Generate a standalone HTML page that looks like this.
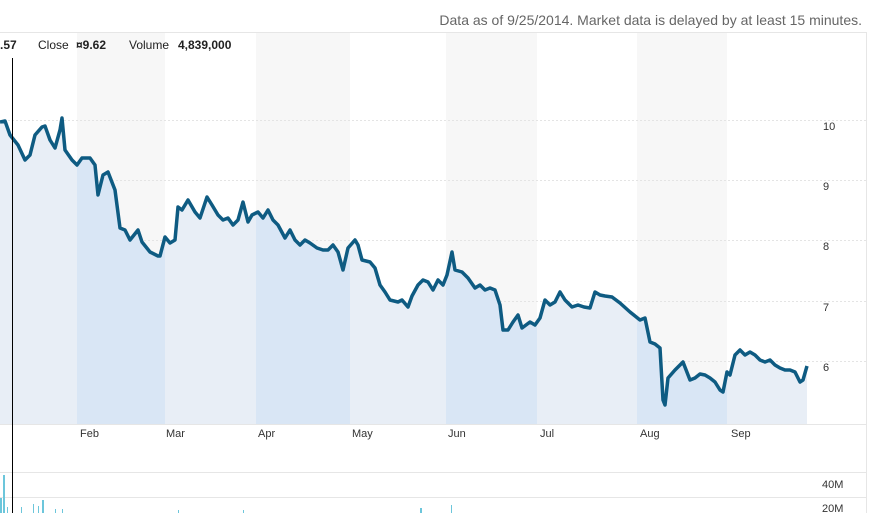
<!DOCTYPE html>
<html><head><meta charset="utf-8"><style>
html,body{margin:0;padding:0;background:#fff;width:880px;height:513px;overflow:hidden}
svg{display:block;font-family:"Liberation Sans",Arial,sans-serif}
</style></head><body>
<svg width="880" height="513" viewBox="0 0 880 513">
<defs>
<clipPath id="ar"><polygon id="apoly" points="0,424 0,122 5,121 10,135 18,145 25,160 30,155 35,135 42,127 45,126 50,140 55,148 60,130 62,118 65,150 72,160 77,165 82,158 90,158 95,165 98,195 103,175 108,172 115,190 120,228 125,230 130,240 138,230 142,242 150,252 158,256 160,256 165,237 170,243 175,240 178,207 182,210 188,200 195,212 200,218 207,197 212,205 218,215 223,220 228,218 233,225 238,220 243,202 248,222 252,215 258,212 263,218 268,210 273,220 278,225 285,238 290,230 295,240 300,245 305,240 310,243 317,248 323,250 328,250 333,245 338,252 343,270 348,248 355,240 358,245 362,260 370,262 375,268 380,285 385,292 390,300 398,302 402,300 408,307 412,296 418,285 423,280 428,282 433,290 438,280 443,285 447,275 452,252 455,270 462,272 468,278 475,288 480,285 485,290 490,288 495,290 500,305 503,330 508,330 513,322 518,315 522,328 530,322 535,325 540,318 545,300 550,305 555,302 560,292 565,300 572,307 578,305 584,307 590,308 595,292 600,295 605,296 612,297 620,303 630,312 640,320 645,318 650,342 655,344 660,348 663,400 665,405 668,378 675,370 683,362 690,380 695,378 700,374 705,375 710,378 715,382 720,390 723,392 727,372 730,375 735,355 740,350 745,355 750,352 755,355 760,360 765,362 770,360 775,365 780,368 785,370 790,370 795,372 800,382 803,380 807,366 807,424"/></clipPath>
</defs>
<text x="862" y="25" font-size="14" fill="#666" text-anchor="end">Data as of 9/25/2014. Market data is delayed by at least 15 minutes.</text>
<line x1="0" y1="32.5" x2="866" y2="32.5" stroke="#e6e6e6"/>
<line x1="866.5" y1="32" x2="866.5" y2="513" stroke="#e6e6e6"/>
<rect x="77" y="33" width="88" height="391" fill="#f7f7f7"/>
<rect x="256" y="33" width="94" height="391" fill="#f7f7f7"/>
<rect x="446" y="33" width="91" height="391" fill="#f7f7f7"/>
<rect x="637" y="33" width="90" height="391" fill="#f7f7f7"/>
<g stroke="#e4e4e4" stroke-dasharray="2,2">
<line x1="0" y1="120.5" x2="866" y2="120.5"/><line x1="0" y1="180.5" x2="866" y2="180.5"/>
<line x1="0" y1="240.5" x2="866" y2="240.5"/><line x1="0" y1="301.5" x2="866" y2="301.5"/>
<line x1="0" y1="361.5" x2="866" y2="361.5"/></g>
<g clip-path="url(#ar)">
<rect x="0" y="0" width="810" height="424" fill="#e8eef6"/>
<rect x="77" y="0" width="88" height="424" fill="#d9e6f5"/>
<rect x="256" y="0" width="94" height="424" fill="#d9e6f5"/>
<rect x="446" y="0" width="91" height="424" fill="#d9e6f5"/>
<rect x="637" y="0" width="90" height="424" fill="#d9e6f5"/>
</g>
<polyline fill="none" stroke="#0e5b82" stroke-width="3.5" stroke-linejoin="round" points="0,122 5,121 10,135 18,145 25,160 30,155 35,135 42,127 45,126 50,140 55,148 60,130 62,118 65,150 72,160 77,165 82,158 90,158 95,165 98,195 103,175 108,172 115,190 120,228 125,230 130,240 138,230 142,242 150,252 158,256 160,256 165,237 170,243 175,240 178,207 182,210 188,200 195,212 200,218 207,197 212,205 218,215 223,220 228,218 233,225 238,220 243,202 248,222 252,215 258,212 263,218 268,210 273,220 278,225 285,238 290,230 295,240 300,245 305,240 310,243 317,248 323,250 328,250 333,245 338,252 343,270 348,248 355,240 358,245 362,260 370,262 375,268 380,285 385,292 390,300 398,302 402,300 408,307 412,296 418,285 423,280 428,282 433,290 438,280 443,285 447,275 452,252 455,270 462,272 468,278 475,288 480,285 485,290 490,288 495,290 500,305 503,330 508,330 513,322 518,315 522,328 530,322 535,325 540,318 545,300 550,305 555,302 560,292 565,300 572,307 578,305 584,307 590,308 595,292 600,295 605,296 612,297 620,303 630,312 640,320 645,318 650,342 655,344 660,348 663,400 665,405 668,378 675,370 683,362 690,380 695,378 700,374 705,375 710,378 715,382 720,390 723,392 727,372 730,375 735,355 740,350 745,355 750,352 755,355 760,360 765,362 770,360 775,365 780,368 785,370 790,370 795,372 800,382 803,380 807,366"/>
<line x1="0" y1="424.5" x2="866" y2="424.5" stroke="#e6e6e6"/>
<g font-size="11" fill="#333">
<text x="823" y="130">10</text><text x="823" y="190">9</text><text x="823" y="250">8</text><text x="823" y="311">7</text><text x="823" y="371">6</text>
<text x="80" y="437">Feb</text><text x="166" y="437">Mar</text><text x="258" y="437">Apr</text><text x="352" y="437">May</text>
<text x="448" y="437">Jun</text><text x="540" y="437">Jul</text><text x="640" y="437">Aug</text><text x="731" y="437">Sep</text>
<text x="822" y="488">40M</text><text x="822" y="512">20M</text>
</g>
<line x1="0" y1="472.5" x2="866" y2="472.5" stroke="#e6e6e6"/>
<line x1="0" y1="497.5" x2="866" y2="497.5" stroke="#e6e6e6"/>
<g fill="#6cc6db">
<rect x="3" y="475" width="2" height="38"/><rect x="0" y="498" width="2" height="15"/><rect x="7" y="507" width="1" height="6"/>
<rect x="21" y="507" width="1" height="6"/><rect x="33" y="504" width="1" height="9"/><rect x="38" y="506" width="1" height="7"/>
<rect x="42" y="500" width="2" height="13"/><rect x="55" y="509" width="1" height="4"/><rect x="62" y="509" width="1" height="4"/>
<rect x="178" y="510" width="1" height="3"/><rect x="243" y="510" width="1" height="3"/><rect x="420" y="508" width="2" height="5"/><rect x="451" y="505" width="1" height="8"/>
</g>
<line x1="12.5" y1="58" x2="12.5" y2="513" stroke="#000"/>
<text x="0" y="49" font-size="12" font-weight="bold" fill="#222">.57</text>
<text x="38" y="49" font-size="12" fill="#222">Close</text>
<text x="76" y="49" font-size="12" font-weight="bold" fill="#222">¤9.62</text>
<text x="129" y="49" font-size="12" fill="#222">Volume</text>
<text x="178" y="49" font-size="12" font-weight="bold" fill="#222">4,839,000</text>
</svg>
</body></html>
